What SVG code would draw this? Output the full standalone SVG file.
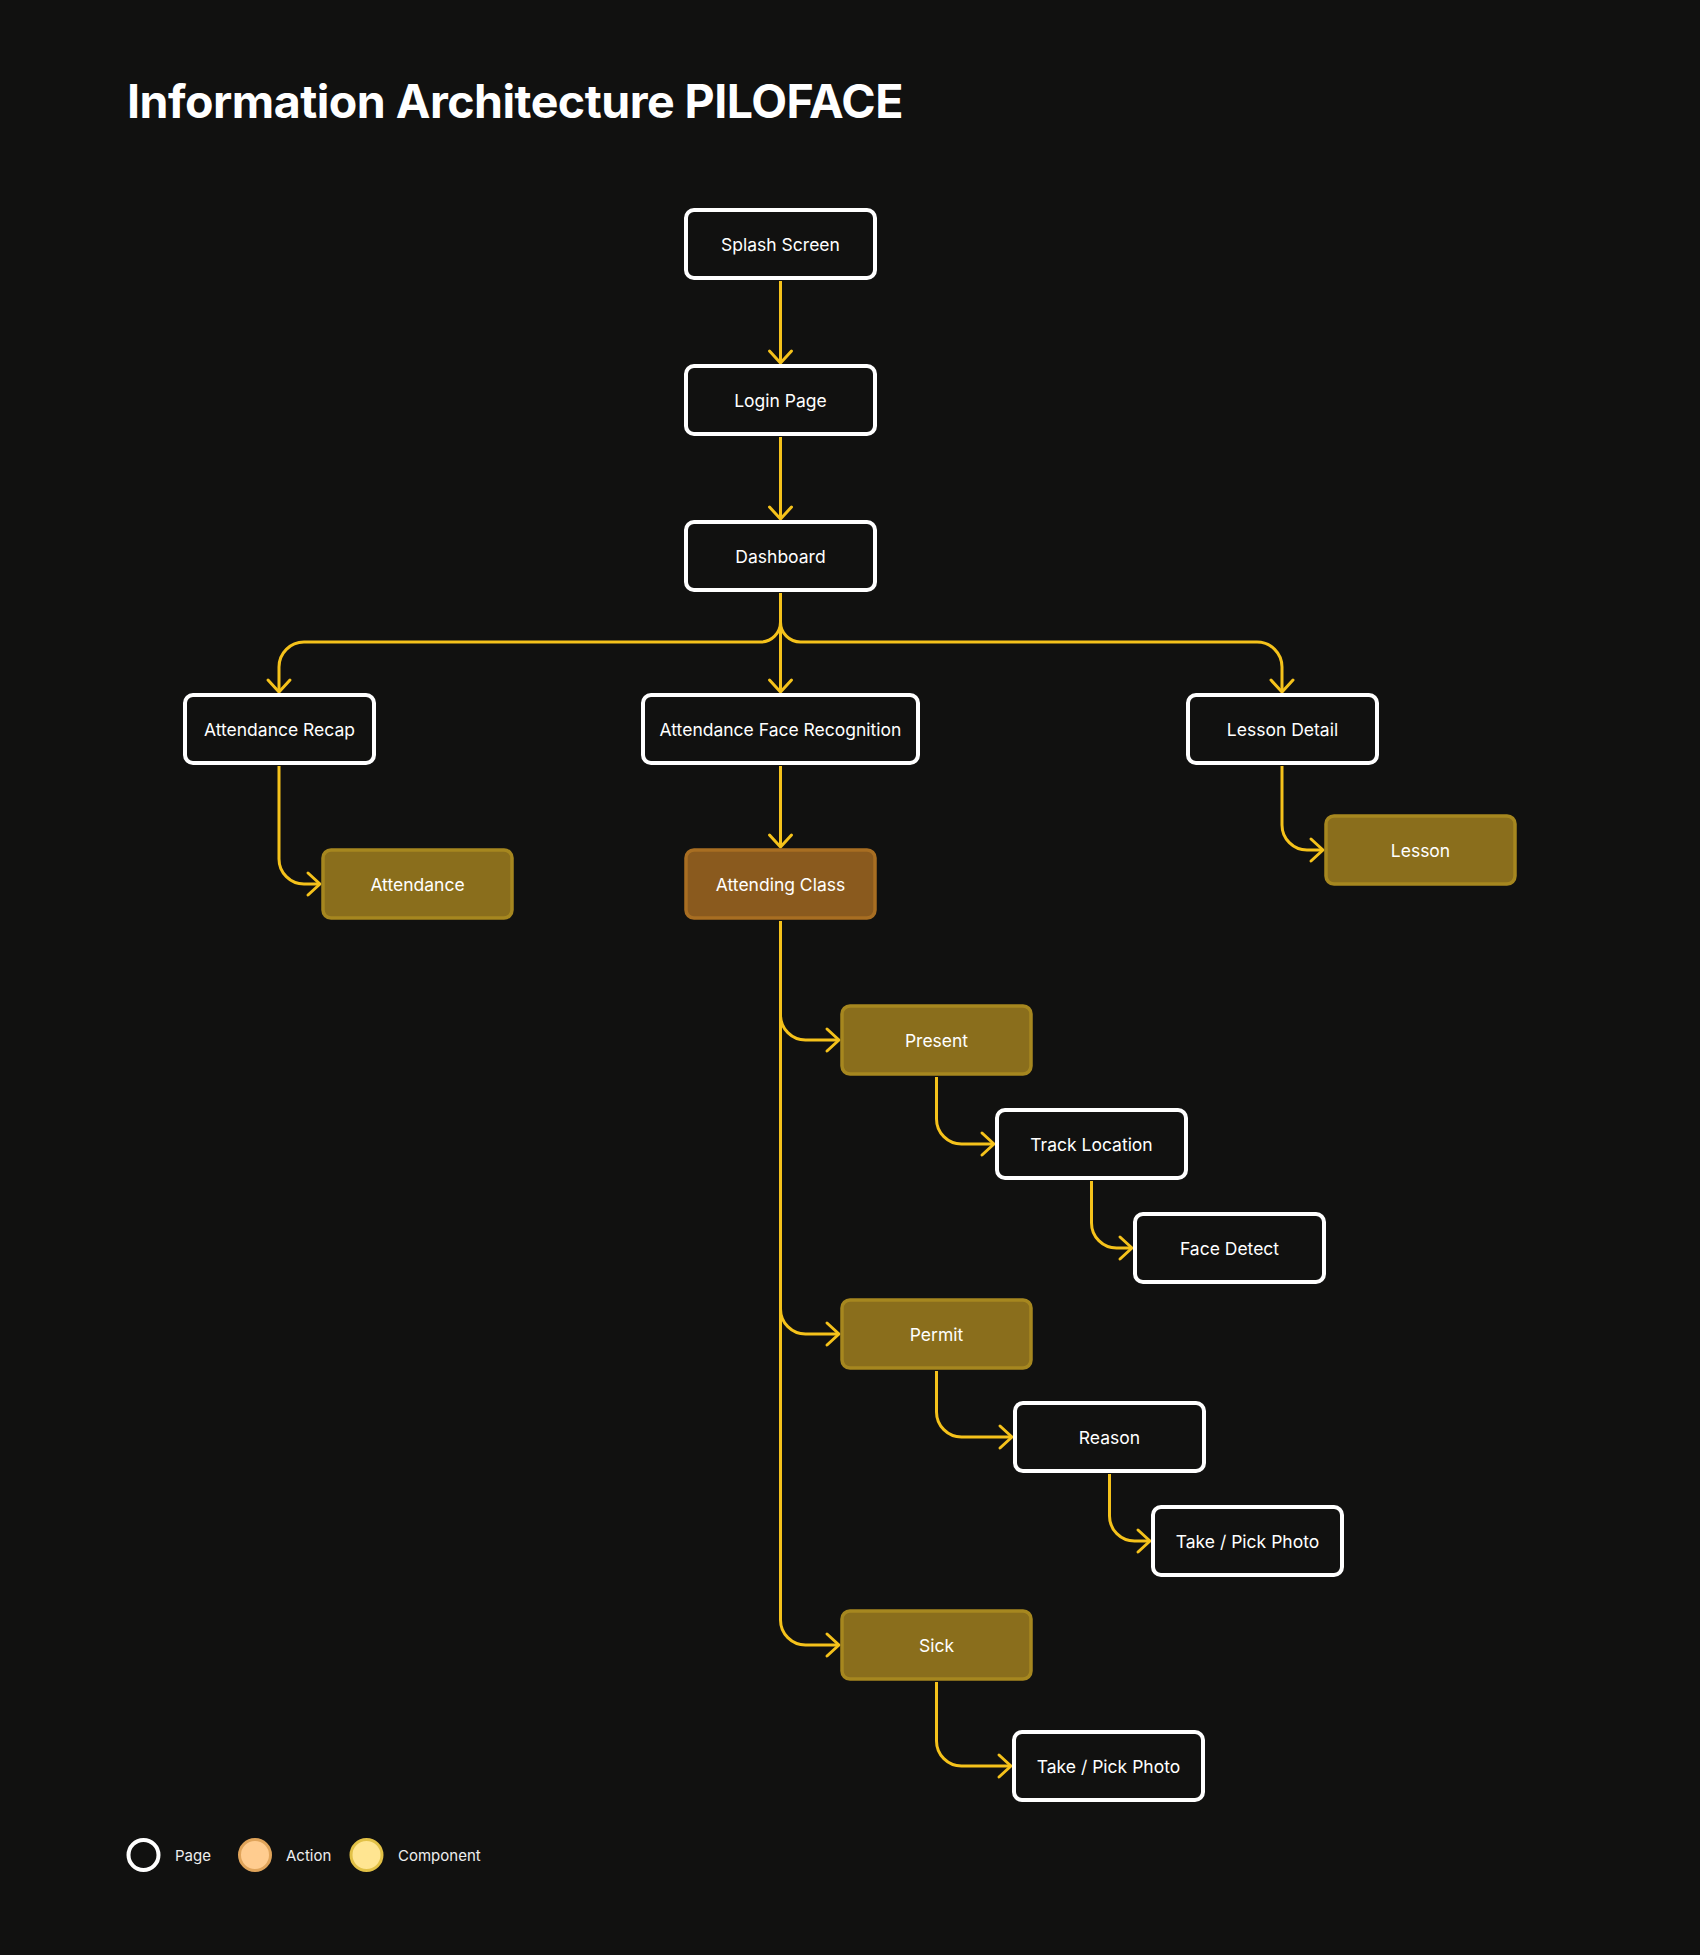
<svg xmlns="http://www.w3.org/2000/svg" width="1700" height="1955" viewBox="0 0 1700 1955">
<style>
.bg{fill:#111110}
.title{font-family:Inter,"Liberation Sans",sans-serif;font-weight:700;font-size:46px;fill:#ffffff;letter-spacing:-0.5px}
.page{fill:#111110;stroke:#ffffff;stroke-width:4}
.comp{fill:#8a6e1c;stroke:#a6871f;stroke-width:3.5}
.act{fill:#8a5a1e;stroke:#a86e22;stroke-width:3.5}
.lbl{font-family:Inter,"Liberation Sans",sans-serif;font-weight:400;font-size:17.5px;fill:#ffffff;text-anchor:middle}
.edge{fill:none;stroke:#f5c21b;stroke-width:3;marker-end:url(#arr)}
.leg{font-family:Inter,"Liberation Sans",sans-serif;font-weight:400;font-size:15px;fill:#eeeeee}
</style>
<defs>
<marker id="arr" markerUnits="userSpaceOnUse" markerWidth="30" markerHeight="30" viewBox="-15 -15 30 30" refX="0" refY="0" orient="auto" overflow="visible">
<path d="M-12,-11 L0,0 L-12,11" fill="none" stroke="#f5c21b" stroke-width="3" stroke-linecap="round" stroke-linejoin="round"/>
</marker>
</defs>
<rect class="bg" x="0" y="0" width="1700" height="1955"/>
<text class="title" x="127" y="118" textLength="776" lengthAdjust="spacingAndGlyphs">Information Architecture PILOFACE</text>

<g id="connectors">
<path class="edge" d="M780.5,281 V363"/>
<path class="edge" d="M780.5,437 V519"/>
<path class="edge" d="M780.5,593 V692"/>
<path class="edge" d="M780.5,622 A20,20 0 0 1 760.5,642 H304 A25,25 0 0 0 279,667 V692"/>
<path class="edge" d="M780.5,622 A20,20 0 0 0 800.5,642 H1257 A25,25 0 0 1 1282,667 V692"/>
<path class="edge" d="M279,766 V859 A25,25 0 0 0 304,884 H320"/>
<path class="edge" d="M1282,766 V825 A25,25 0 0 0 1307,850 H1323"/>
<path class="edge" d="M780.5,766 V847"/>
<path class="edge" d="M780.5,921 V1620 A25,25 0 0 0 805.5,1645 H839"/>
<path class="edge" d="M780.5,1015 A25,25 0 0 0 805.5,1040 H839"/>
<path class="edge" d="M780.5,1309 A25,25 0 0 0 805.5,1334 H839"/>
<path class="edge" d="M936.5,1077 V1119 A25,25 0 0 0 961.5,1144 H994"/>
<path class="edge" d="M1091.5,1181 V1223 A25,25 0 0 0 1116.5,1248 H1132"/>
<path class="edge" d="M936.5,1371 V1412 A25,25 0 0 0 961.5,1437 H1012"/>
<path class="edge" d="M1109.5,1474 V1516 A25,25 0 0 0 1134.5,1541 H1150"/>
<path class="edge" d="M936.5,1682 V1741 A25,25 0 0 0 961.5,1766 H1011"/>
</g>

<g id="splash"><rect class="page" x="686" y="210" width="189" height="68" rx="8"/><text class="lbl" x="780.5" y="250.5">Splash Screen</text></g>
<g id="login"><rect class="page" x="686" y="366" width="189" height="68" rx="8"/><text class="lbl" x="780.5" y="406.5">Login Page</text></g>
<g id="dashboard"><rect class="page" x="686" y="522" width="189" height="68" rx="8"/><text class="lbl" x="780.5" y="562.5">Dashboard</text></g>
<g id="attendance-recap"><rect class="page" x="185" y="695" width="189" height="68" rx="8"/><text class="lbl" x="279.5" y="735.5">Attendance Recap</text></g>
<g id="attendance-face"><rect class="page" x="643" y="695" width="275" height="68" rx="8"/><text class="lbl" x="780.5" y="735.5">Attendance Face Recognition</text></g>
<g id="lesson-detail"><rect class="page" x="1188" y="695" width="189" height="68" rx="8"/><text class="lbl" x="1282.5" y="735.5">Lesson Detail</text></g>
<g id="attendance"><rect class="comp" x="323" y="850" width="189" height="68" rx="8"/><text class="lbl" x="417.5" y="890.5">Attendance</text></g>
<g id="attending-class"><rect class="act" x="686" y="850" width="189" height="68" rx="8"/><text class="lbl" x="780.5" y="890.5">Attending Class</text></g>
<g id="lesson"><rect class="comp" x="1326" y="816" width="189" height="68" rx="8"/><text class="lbl" x="1420.5" y="856.5">Lesson</text></g>
<g id="present"><rect class="comp" x="842" y="1006" width="189" height="68" rx="8"/><text class="lbl" x="936.5" y="1046.5">Present</text></g>
<g id="track-location"><rect class="page" x="997" y="1110" width="189" height="68" rx="8"/><text class="lbl" x="1091.5" y="1150.5">Track Location</text></g>
<g id="face-detect"><rect class="page" x="1135" y="1214" width="189" height="68" rx="8"/><text class="lbl" x="1229.5" y="1254.5">Face Detect</text></g>
<g id="permit"><rect class="comp" x="842" y="1300" width="189" height="68" rx="8"/><text class="lbl" x="936.5" y="1340.5">Permit</text></g>
<g id="reason"><rect class="page" x="1015" y="1403" width="189" height="68" rx="8"/><text class="lbl" x="1109.5" y="1443.5">Reason</text></g>
<g id="photo-permit"><rect class="page" x="1153" y="1507" width="189" height="68" rx="8"/><text class="lbl" x="1247.5" y="1547.5">Take / Pick Photo</text></g>
<g id="sick"><rect class="comp" x="842" y="1611" width="189" height="68" rx="8"/><text class="lbl" x="936.5" y="1651.5">Sick</text></g>
<g id="photo-sick"><rect class="page" x="1014" y="1732" width="189" height="68" rx="8"/><text class="lbl" x="1108.5" y="1772.5">Take / Pick Photo</text></g>

<g id="legend">
<circle cx="143.5" cy="1855" r="15" fill="none" stroke="#ffffff" stroke-width="4"/>
<text class="leg" x="175" y="1861">Page</text>
<circle cx="255" cy="1855" r="15.5" fill="#ffcc8f" stroke="#e0a45a" stroke-width="3"/>
<text class="leg" x="286" y="1861">Action</text>
<circle cx="366.5" cy="1855" r="15.5" fill="#ffe591" stroke="#e2c146" stroke-width="3"/>
<text class="leg" x="398" y="1861">Component</text>
</g>
</svg>
